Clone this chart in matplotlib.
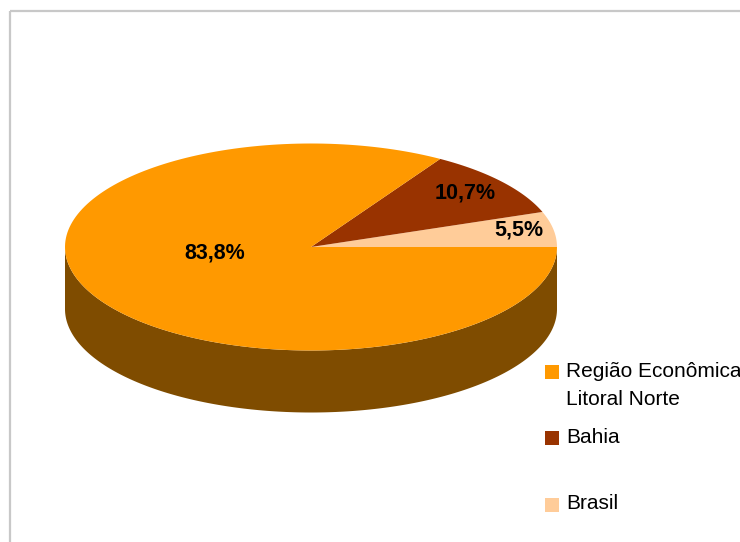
import numpy as np
import matplotlib.pyplot as plt
from matplotlib.patches import Polygon, Rectangle

plt.rcParams['font.family'] = ['Liberation Sans', 'DejaVu Sans']

# shares (%) per region
categories = ['Região Econômica\nLitoral Norte', 'Bahia', 'Brasil']
values = [83.8, 10.7, 5.5]
top_colors = ['#FF9900', '#993300', '#FFCC99']
side_colors = ['#7F4C00', '#4C1900', '#7F664C']

# pie geometry in pixels (y grows downwards)
cx, cy = 311, 247
rx, ry = 246, 103.5
depth = 62

fig = plt.figure(figsize=(7.4, 5.42), dpi=100)
ax = fig.add_axes([0, 0, 1, 1])
ax.set_xlim(0, 740)
ax.set_ylim(542, 0)
ax.axis('off')

# chart area border (runs off the right and bottom edges)
ax.add_patch(Rectangle((10, 10.5), 760, 560, fill=False,
                       edgecolor='#C8C8C8', linewidth=1.6))


def arc(t0, t1, dy=0.0, n=200):
    t = np.radians(np.linspace(t0, t1, n))
    return np.column_stack([cx + rx * np.cos(t), cy - ry * np.sin(t) + dy])


# slices drawn counter-clockwise starting at 3 o'clock
order = [2, 1, 0]
fracs = np.array([values[i] for i in order]) / sum(values)
bounds = np.concatenate([[0], np.cumsum(fracs) * 360])

# side walls: only the front half (180..360 deg) is visible
for k, i in enumerate(order):
    a0, a1 = bounds[k], bounds[k + 1]
    s0, s1 = max(a0, 180), min(a1, 360)
    if s1 <= s0:
        continue
    pts = np.vstack([arc(s0, s1), arc(s1, s0, depth)])
    ax.add_patch(Polygon(pts, closed=True, facecolor=side_colors[i],
                         edgecolor='none'))

# top faces
for k, i in enumerate(order):
    a0, a1 = bounds[k], bounds[k + 1]
    pts = np.vstack([[cx, cy], arc(a0, a1)])
    ax.add_patch(Polygon(pts, closed=True, facecolor=top_colors[i],
                         edgecolor='none'))

# value labels
label_pos = {0: (215, 253.5), 1: (465.5, 193.5), 2: (519, 230)}
for i, v in enumerate(values):
    x, y = label_pos[i]
    ax.text(x, y, f'{v:.1f}%'.replace('.', ','), ha='center', va='center',
            fontsize=15.5, fontweight='bold', color='black')

# legend
legend_rows = [(372, 377), (437.5, 443), (504.5, 509)]
for i, name in enumerate(categories):
    ys, yb = legend_rows[i]
    ax.add_patch(Rectangle((545, ys - 7), 14, 14, facecolor=top_colors[i],
                           edgecolor='none'))
    for j, line in enumerate(name.split('\n')):
        ax.text(566, yb + j * 28, line, ha='left', va='baseline',
                fontsize=15, color='black')

fig.savefig('out.png', dpi=100)
